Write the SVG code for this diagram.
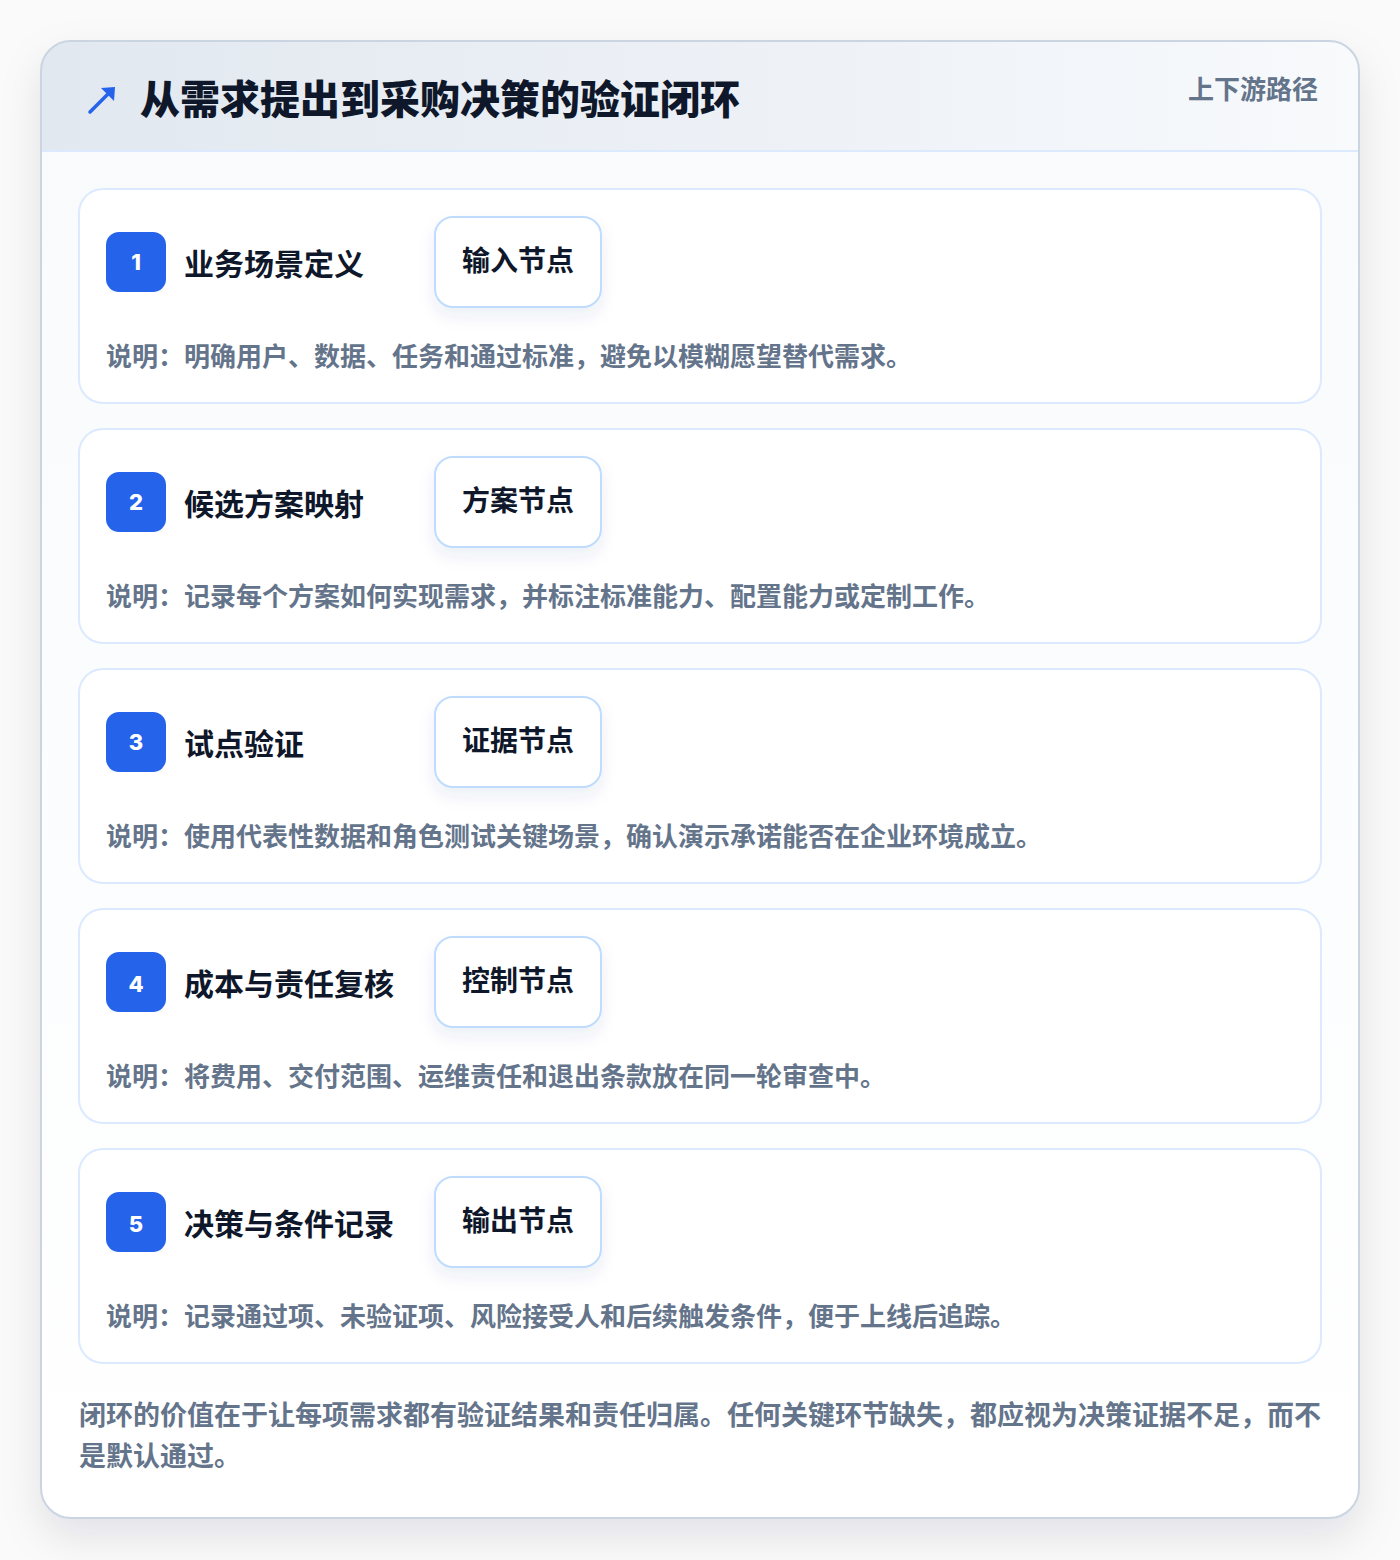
<svg xmlns="http://www.w3.org/2000/svg" width="1400" height="1560" viewBox="0 0 1400 1560">
<defs>
<linearGradient id="hdr" x1="0" y1="0" x2="1" y2="0">
<stop offset="0" stop-color="#e2e8f0"/>
<stop offset="0.6" stop-color="#eef2f7"/>
<stop offset="1" stop-color="#f8fafc"/>
</linearGradient>
<linearGradient id="body" x1="0" y1="0" x2="0" y2="1">
<stop offset="0" stop-color="#f8fafc"/>
<stop offset="1" stop-color="#ffffff"/>
</linearGradient>
<filter id="cardShadow" x="-10%" y="-10%" width="120%" height="120%">
<feDropShadow dx="0" dy="18" stdDeviation="20" flood-color="#0f172a" flood-opacity="0.10"/>
</filter>
<filter id="nodeShadow" x="-30%" y="-30%" width="160%" height="180%">
<feDropShadow dx="0" dy="8" stdDeviation="8" flood-color="#1e3a8a" flood-opacity="0.08"/>
</filter>
<clipPath id="cardClip"><rect x="41" y="41" width="1318" height="1477" rx="30"/></clipPath>
</defs>
<style>
.cjk{font-family:"Noto Sans CJK SC","Noto Sans",sans-serif;font-weight:700}
.title{font-size:30px;fill:#0f172a}
.node{font-size:28px;fill:#0f172a}
.desc{font-size:26px;fill:#64748b}
.num{font-family:Inter,"Liberation Sans",sans-serif;font-weight:800;font-size:22px;fill:#ffffff}
.step{fill:#ffffff;stroke:#dbeafe;stroke-width:2}
.badge{fill:#2563eb}
.nbox{fill:#ffffff;stroke:#bfdbfe;stroke-width:2}
</style>
<rect width="1400" height="1560" fill="#fafafa"/>
<g id="card">
<rect x="41" y="41" width="1318" height="1477" rx="30" fill="#ffffff" filter="url(#cardShadow)"/>
<g clip-path="url(#cardClip)">
<rect x="41" y="41" width="1318" height="1477" fill="url(#body)"/>
<rect x="41" y="41" width="1318" height="110" fill="url(#hdr)"/>
<line x1="41" y1="151" x2="1359" y2="151" stroke="#dbeafe" stroke-width="2"/>
</g>
<rect x="41" y="41" width="1318" height="1477" rx="30" fill="none" stroke="#cbd5e1" stroke-width="2"/>
</g>
<g id="header">
<path d="M90 112 L112 90" stroke="#2563eb" stroke-width="3.5" stroke-linecap="round"/>
<path d="M101 88 L115 87 L114 101 Z" fill="#2563eb"/>
<text x="140" y="114" class="cjk" font-size="40" font-weight="900" fill="#0f172a" style="font-weight:900">从需求提出到采购决策的验证闭环</text>
<text x="1318" y="99" class="cjk" font-size="26" fill="#64748b" text-anchor="end">上下游路径</text>
</g>
<g id="step1">
<rect class="step" x="79" y="189" width="1242" height="214" rx="24"/>
<rect class="badge" x="106" y="232" width="60" height="60" rx="13"/>
<text class="num" x="136" y="270" text-anchor="middle">1</text>
<text class="cjk title" x="184" y="275">业务场景定义</text>
<rect class="nbox" x="435" y="217" width="166" height="90" rx="18" filter="url(#nodeShadow)"/>
<text class="cjk node" x="518" y="271" text-anchor="middle">输入节点</text>
<text class="cjk desc" x="106" y="366">说明：明确用户、数据、任务和通过标准，避免以模糊愿望替代需求。</text>
</g>
<g id="step2">
<rect class="step" x="79" y="429" width="1242" height="214" rx="24"/>
<rect class="badge" x="106" y="472" width="60" height="60" rx="13"/>
<text class="num" x="136" y="510" text-anchor="middle">2</text>
<text class="cjk title" x="184" y="515">候选方案映射</text>
<rect class="nbox" x="435" y="457" width="166" height="90" rx="18" filter="url(#nodeShadow)"/>
<text class="cjk node" x="518" y="511" text-anchor="middle">方案节点</text>
<text class="cjk desc" x="106" y="606">说明：记录每个方案如何实现需求，并标注标准能力、配置能力或定制工作。</text>
</g>
<g id="step3">
<rect class="step" x="79" y="669" width="1242" height="214" rx="24"/>
<rect class="badge" x="106" y="712" width="60" height="60" rx="13"/>
<text class="num" x="136" y="750" text-anchor="middle">3</text>
<text class="cjk title" x="184" y="755">试点验证</text>
<rect class="nbox" x="435" y="697" width="166" height="90" rx="18" filter="url(#nodeShadow)"/>
<text class="cjk node" x="518" y="751" text-anchor="middle">证据节点</text>
<text class="cjk desc" x="106" y="846">说明：使用代表性数据和角色测试关键场景，确认演示承诺能否在企业环境成立。</text>
</g>
<g id="step4">
<rect class="step" x="79" y="909" width="1242" height="214" rx="24"/>
<rect class="badge" x="106" y="952" width="60" height="60" rx="13"/>
<text class="num" x="136" y="992" text-anchor="middle">4</text>
<text class="cjk title" x="184" y="995">成本与责任复核</text>
<rect class="nbox" x="435" y="937" width="166" height="90" rx="18" filter="url(#nodeShadow)"/>
<text class="cjk node" x="518" y="991" text-anchor="middle">控制节点</text>
<text class="cjk desc" x="106" y="1086">说明：将费用、交付范围、运维责任和退出条款放在同一轮审查中。</text>
</g>
<g id="step5">
<rect class="step" x="79" y="1149" width="1242" height="214" rx="24"/>
<rect class="badge" x="106" y="1192" width="60" height="60" rx="13"/>
<text class="num" x="136" y="1232" text-anchor="middle">5</text>
<text class="cjk title" x="184" y="1235">决策与条件记录</text>
<rect class="nbox" x="435" y="1177" width="166" height="90" rx="18" filter="url(#nodeShadow)"/>
<text class="cjk node" x="518" y="1231" text-anchor="middle">输出节点</text>
<text class="cjk desc" x="106" y="1326">说明：记录通过项、未验证项、风险接受人和后续触发条件，便于上线后追踪。</text>
</g>
<g id="connectors"></g>
<g id="footer">
<text class="cjk" font-size="27" fill="#64748b" x="79" y="1425">闭环的价值在于让每项需求都有验证结果和责任归属。任何关键环节缺失，都应视为决策证据不足，而不</text>
<text class="cjk" font-size="27" fill="#64748b" x="79" y="1466">是默认通过。</text>
</g>
</svg>
